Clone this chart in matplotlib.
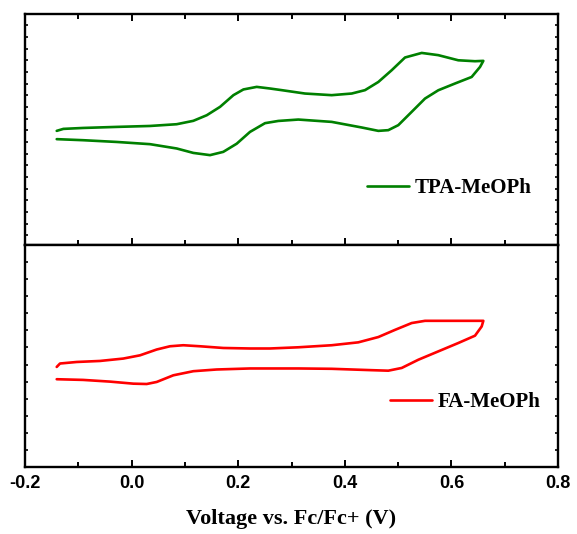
import matplotlib
matplotlib.use("Agg")
import matplotlib.pyplot as plt
import numpy as np

# TPA-MeOPh cyclic voltammogram (forward scan then reverse), arbitrary current units
tpa_v = [-0.1405, -0.128, -0.091, -0.028, 0.0345, 0.0846, 0.1158, 0.141, 0.166, 0.191,
         0.2098, 0.2347, 0.2597, 0.2816, 0.3253, 0.3754, 0.413, 0.4379, 0.4629, 0.488,
         0.513, 0.5443, 0.5754, 0.6129, 0.6443, 0.6599,
         0.6537, 0.638, 0.6068, 0.5754, 0.5505, 0.5255, 0.5004, 0.4816, 0.4629, 0.4317,
         0.3754, 0.3128, 0.2752, 0.2503, 0.2409, 0.2221, 0.1972, 0.172, 0.1471, 0.1158,
         0.0846, 0.0345, -0.028, -0.091, -0.1405]
tpa_i = [8.94, 9.11, 9.19, 9.28, 9.36, 9.51, 9.80, 10.28, 11.0, 12.0,
         12.49, 12.71, 12.57, 12.43, 12.14, 12.0, 12.14, 12.43, 13.13, 14.14,
         15.23, 15.62, 15.43, 14.99, 14.91, 14.94,
         14.42, 13.56, 13.0, 12.42, 11.71, 10.57, 9.43, 9.0, 8.94, 9.23,
         9.71, 9.91, 9.79, 9.6, 9.35, 8.85, 7.84, 7.14, 6.86, 7.05,
         7.43, 7.80, 7.99, 8.14, 8.23]

# FA-MeOPh cyclic voltammogram
fa_v = [-0.1405, -0.1343, -0.103, -0.0593, -0.0156, 0.0158, 0.0471, 0.072, 0.097, 0.1283,
        0.172, 0.2221, 0.2597, 0.3128, 0.3754, 0.4253, 0.4629, 0.4942, 0.5255, 0.5505,
        0.6006, 0.6443, 0.6599,
        0.6568, 0.6443, 0.6129, 0.5754, 0.5379, 0.5068, 0.4816, 0.4505, 0.3754, 0.3128,
        0.2503, 0.2221, 0.1596, 0.1158, 0.0783, 0.0471, 0.0283, 0.0032, -0.0405, -0.091,
        -0.1405]
fa_i = [4.86, 5.06, 5.15, 5.21, 5.35, 5.54, 5.88, 6.07, 6.13, 6.07,
        5.97, 5.94, 5.94, 6.01, 6.13, 6.30, 6.61, 7.03, 7.43, 7.56,
        7.56, 7.56, 7.56,
        7.23, 6.69, 6.26, 5.77, 5.28, 4.80, 4.64, 4.67, 4.75, 4.77,
        4.77, 4.77, 4.71, 4.61, 4.37, 3.98, 3.86, 3.88, 4.00, 4.10,
        4.14]

x_ticks = [-0.2, 0.0, 0.2, 0.4, 0.6, 0.8]
x_ticklabels = ["-0.2", "0.0", "0.2", "0.4", "0.6", "0.8"]

W, H = 577, 534
fig = plt.figure(figsize=(W / 100, H / 100), dpi=100)

left, right = 25 / W, 558 / W
ax1 = fig.add_axes([left, 1 - 244.5 / H, right - left, 231 / H])
ax2 = fig.add_axes([left, 1 - 467 / H, right - left, 222 / H])

tick_font = {"family": "Liberation Sans", "weight": "bold", "size": 13}
serif_bold = {"family": "Liberation Serif", "weight": "bold"}
leg_font = {"family": "Liberation Serif", "weight": "bold", "size": 15}

ax1.plot(tpa_v, tpa_i, color="#008000", lw=1.9, label="TPA-MeOPh",
         solid_joinstyle="round", solid_capstyle="round")
ax2.plot(fa_v, fa_i, color="#ff0000", lw=1.9, label="FA-MeOPh",
         solid_joinstyle="round", solid_capstyle="round")

ax1.set_ylim(-0.8, 19.0)
ax1.set_yticks(np.arange(0, 19, 1))
ax2.set_ylim(-1.0, 12.0)
ax2.set_yticks(np.arange(0, 12, 1))

for ax in (ax1, ax2):
    ax.set_xlim(-0.2, 0.8)
    ax.set_xticks(x_ticks)
    ax.set_xticks(np.arange(-0.1, 0.8, 0.2), minor=True)
    for s in ax.spines.values():
        s.set_linewidth(1.7)
    ax.tick_params(axis="x", which="major", direction="in", length=5, width=1.4)
    ax.tick_params(axis="x", which="minor", direction="in", length=3.5, width=1.4)
    ax.tick_params(axis="y", which="major", direction="in", length=2.5, width=1.2,
                   left=True, right=True, labelleft=False)

ax1.tick_params(axis="x", which="both", top=True, labelbottom=False)
ax2.tick_params(axis="x", which="both", top=False, pad=6)
ax2.set_xticklabels(x_ticklabels, fontdict=tick_font)

ax2.set_xlabel("Voltage vs. Fc/Fc+ (V)", fontsize=16, labelpad=12, **serif_bold)

ax1.legend(loc="center left", bbox_to_anchor=(0.6417, 0.2446), frameon=False,
           borderpad=0, borderaxespad=0, handlelength=2.0, handletextpad=0.3, prop=leg_font)
ax2.legend(loc="center left", bbox_to_anchor=(0.6848, 0.2928), frameon=False,
           borderpad=0, borderaxespad=0, handlelength=2.0, handletextpad=0.3, prop=leg_font)

fig.savefig("out.png", dpi=100)
